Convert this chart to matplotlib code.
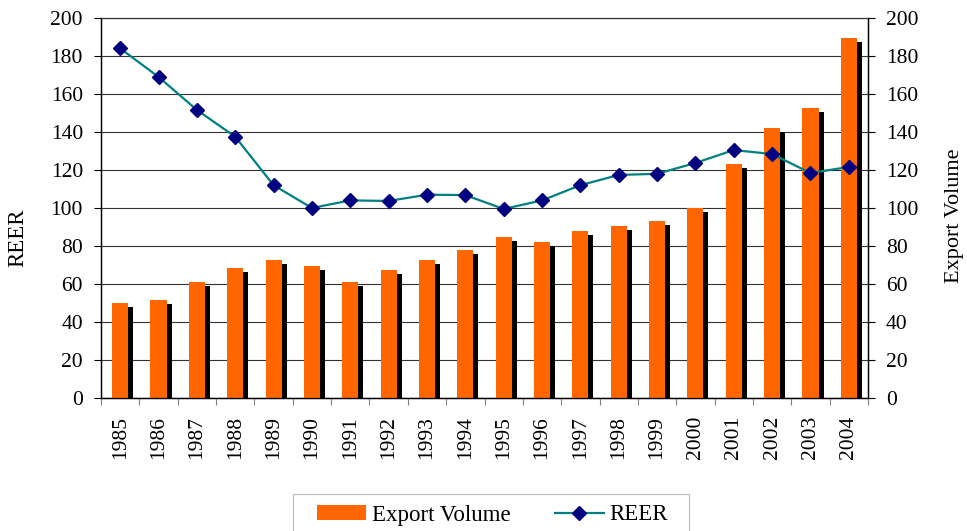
import matplotlib
matplotlib.use("Agg")
import matplotlib.pyplot as plt
import matplotlib.patheffects as pe
from matplotlib.lines import Line2D
from matplotlib.patches import Patch, Rectangle
import numpy as np

plt.rcParams['font.family'] = ['Liberation Serif', 'DejaVu Serif']

years = ['1985', '1986', '1987', '1988', '1989', '1990', '1991', '1992', '1993', '1994',
         '1995', '1996', '1997', '1998', '1999', '2000', '2001', '2002', '2003', '2004']
export_volume = [50, 51.6, 61, 68.4, 72.6, 69.5, 61, 67.4, 72.6, 78,
                 84.7, 82, 87.9, 90.5, 93.2, 100, 123.2, 142, 152.6, 189.5]
reer = [184, 169, 151.6, 137.5, 112, 100, 104, 103.7, 107, 106.8,
        99.5, 104, 112, 117.4, 118, 123.7, 130.5, 128.4, 118.4, 121.6]
yticks = [0, 20, 40, 60, 80, 100, 120, 140, 160, 180, 200]

W, H = 967, 531
fig = plt.figure(figsize=(W / 100, H / 100), dpi=100)
ax = fig.add_axes([101 / W, 1 - 398 / H, 767 / W, 380 / H])
ax2 = ax.twinx()

x = np.arange(len(years))
fs = 15.5

# bars on the right axis (Export Volume)
ax2.bar(x, export_volume, width=0.42, color='#FF6600', zorder=3,
        path_effects=[pe.SimplePatchShadow(offset=(3.6, -2.9), shadow_rgbFace='black', alpha=1.0),
                      pe.Normal()])
ax2.set_ylim(0, 200)
ax2.set_yticks(yticks)
ax2.yaxis.grid(True, color='#333333', linewidth=0.8, zorder=0)
ax2.set_axisbelow(True)
ax2.tick_params(axis='y', direction='out', length=5, width=0.8, pad=8, labelsize=fs)

# line on left axis (REER)
ax.set_zorder(ax2.get_zorder() + 1)
ax.patch.set_visible(False)
ax.plot(x, reer, color='#008080', linewidth=1.6, marker='D', markersize=7.6,
        markerfacecolor='#000080', markeredgecolor='#000080', zorder=5)
ax.set_ylim(0, 200)
ax.set_yticks(yticks)
ax.tick_params(axis='y', direction='out', length=5, width=0.8, pad=8, labelsize=fs)

ax.set_xlim(-0.5, len(years) - 0.5)
ax.set_xticks(np.arange(-0.5, len(years), 1.0))
ax.set_xticklabels([])
ax.set_xticks(x, minor=True)
ax.set_xticklabels(years, minor=True, rotation=90, fontsize=fs)
ax.tick_params(axis='x', which='major', direction='out', length=5, width=0.8, color='#808080')
ax.tick_params(axis='x', which='minor', length=0, pad=13)

for a in (ax, ax2):
    a.spines['top'].set_color('#333333')
    a.spines['top'].set_linewidth(0.8)
    for s in ('left', 'right', 'bottom'):
        a.spines[s].set_linewidth(0.9)
        a.spines[s].set_color('black')

# axis titles
fig.text(18 / W, 1 - 238 / H, 'REER', rotation=90, ha='center', va='center', fontsize=16.5)
fig.text(955 / W, 1 - 216 / H, 'Export Volume', rotation=90, ha='center', va='center', fontsize=16)

# legend
handles = [Patch(facecolor='#FF6600', edgecolor='none'),
           Line2D([0], [0], color='#008080', linewidth=1.6, marker='D', markersize=7.6,
                  markerfacecolor='#000080', markeredgecolor='#000080')]
leg = fig.legend(handles, ['Export Volume', 'REER'], loc='center',
                 bbox_to_anchor=(492.5 / W, 1 - 515 / H), ncol=2, fontsize=16.5, frameon=False,
                 handlelength=2.14, handleheight=0.65, columnspacing=1.92, borderpad=0,
                 borderaxespad=0, handletextpad=0.26)
fig.patches.append(Rectangle((293 / W, -0.05), (689 - 293) / W, 0.05 + (531 - 494) / H,
                             transform=fig.transFigure, facecolor='white',
                             edgecolor='#bbbbbb', linewidth=0.8, zorder=0))

fig.savefig('out.png', dpi=100)
